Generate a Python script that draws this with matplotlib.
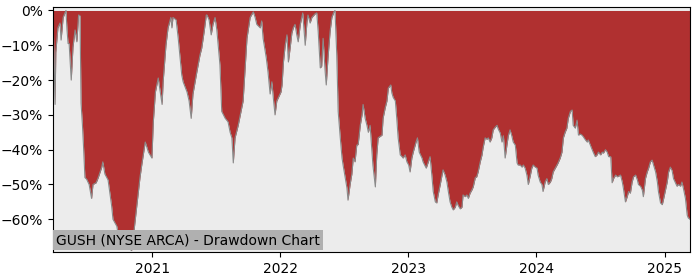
import pandas as pd
import matplotlib
matplotlib.use('Agg')
import matplotlib.pyplot as plt
import matplotlib.dates as mdates
from matplotlib.ticker import PercentFormatter

# drawdown series (percent from running peak)
dates = [
    '2020-03-24', '2020-03-27', '2020-03-30', '2020-04-01', '2020-04-07', '2020-04-13',
    '2020-04-16', '2020-04-22', '2020-04-30', '2020-05-03', '2020-05-06', '2020-05-09',
    '2020-05-15', '2020-05-20', '2020-05-26', '2020-05-31', '2020-06-05', '2020-06-09',
    '2020-06-12', '2020-06-16', '2020-06-19', '2020-06-23', '2020-06-28', '2020-07-05',
    '2020-07-12', '2020-07-16', '2020-07-25', '2020-07-31', '2020-08-10', '2020-08-13',
    '2020-08-19', '2020-08-28', '2020-09-07', '2020-09-11', '2020-09-22', '2020-09-26',
    '2020-10-06', '2020-10-15', '2020-10-24', '2020-11-03', '2020-11-07', '2020-11-18',
    '2020-11-27', '2020-12-02', '2020-12-12', '2020-12-21', '2020-12-31',
    '2021-01-04', '2021-01-10', '2021-01-18', '2021-01-29', '2021-02-01', '2021-02-09',
    '2021-02-15', '2021-02-23', '2021-02-26', '2021-03-01', '2021-03-10', '2021-03-16',
    '2021-03-26', '2021-03-30', '2021-04-10', '2021-04-16', '2021-04-22', '2021-04-27',
    '2021-05-08', '2021-05-17', '2021-05-22', '2021-05-29', '2021-06-04', '2021-06-06',
    '2021-06-12', '2021-06-18', '2021-06-23', '2021-06-29', '2021-07-04', '2021-07-13',
    '2021-07-18', '2021-07-28', '2021-08-05', '2021-08-11', '2021-08-16', '2021-08-20',
    '2021-08-25', '2021-09-03', '2021-09-13', '2021-09-17', '2021-09-28', '2021-10-07',
    '2021-10-16', '2021-10-21', '2021-10-26', '2021-11-05', '2021-11-09', '2021-11-13',
    '2021-11-22', '2021-11-27', '2021-12-03', '2021-12-08', '2021-12-12', '2021-12-17',
    '2021-12-22',
    '2022-01-03', '2022-01-06', '2022-01-10', '2022-01-15', '2022-01-20', '2022-01-24',
    '2022-01-29', '2022-02-03', '2022-02-07', '2022-02-12', '2022-02-17', '2022-02-21',
    '2022-02-27', '2022-03-06', '2022-03-13', '2022-03-18', '2022-03-21', '2022-03-27',
    '2022-04-01', '2022-04-10', '2022-04-15', '2022-04-19', '2022-04-25', '2022-04-29',
    '2022-05-03', '2022-05-09', '2022-05-12', '2022-05-17', '2022-05-23', '2022-05-28',
    '2022-06-03', '2022-06-06', '2022-06-11', '2022-06-15', '2022-06-21', '2022-06-26',
    '2022-06-29', '2022-07-05', '2022-07-10', '2022-07-13', '2022-07-19', '2022-07-24',
    '2022-07-28', '2022-08-02', '2022-08-07', '2022-08-11', '2022-08-17', '2022-08-22',
    '2022-08-25', '2022-08-31', '2022-09-05', '2022-09-09', '2022-09-14', '2022-09-22',
    '2022-09-29', '2022-10-03', '2022-10-07', '2022-10-18', '2022-10-21', '2022-10-27',
    '2022-11-01', '2022-11-05', '2022-11-12', '2022-11-15', '2022-11-19', '2022-11-25',
    '2022-11-29', '2022-12-03', '2022-12-09', '2022-12-14', '2022-12-17', '2022-12-23',
    '2022-12-28',
    '2023-01-02', '2023-01-06', '2023-01-11', '2023-01-15', '2023-01-23', '2023-01-27',
    '2023-02-01', '2023-02-09', '2023-02-12', '2023-02-21', '2023-02-27', '2023-03-04',
    '2023-03-09', '2023-03-13', '2023-03-19', '2023-03-23', '2023-03-27', '2023-04-02',
    '2023-04-07', '2023-04-10', '2023-04-16', '2023-04-21', '2023-04-25', '2023-04-30',
    '2023-05-05', '2023-05-09', '2023-05-15', '2023-05-19', '2023-05-23', '2023-05-29',
    '2023-06-03', '2023-06-06', '2023-06-12', '2023-06-17', '2023-06-21', '2023-06-26',
    '2023-07-01', '2023-07-05', '2023-07-11', '2023-07-15', '2023-07-19', '2023-07-25',
    '2023-07-30', '2023-08-02', '2023-08-08', '2023-08-13', '2023-08-17', '2023-08-22',
    '2023-08-27', '2023-08-31', '2023-09-06', '2023-09-11', '2023-09-14', '2023-09-20',
    '2023-09-25', '2023-09-29', '2023-10-04', '2023-10-09', '2023-10-13', '2023-10-18',
    '2023-10-23', '2023-10-27', '2023-11-02', '2023-11-07', '2023-11-10', '2023-11-16',
    '2023-11-21', '2023-11-25', '2023-11-30', '2023-12-05', '2023-12-09', '2023-12-15',
    '2023-12-19', '2023-12-23', '2023-12-29',
    '2024-01-03', '2024-01-06', '2024-01-12', '2024-01-17', '2024-01-20', '2024-01-26',
    '2024-01-31', '2024-02-04', '2024-02-10', '2024-02-14', '2024-02-18', '2024-02-24',
    '2024-02-29', '2024-03-03', '2024-03-09', '2024-03-14', '2024-03-18', '2024-03-23',
    '2024-03-28', '2024-04-01', '2024-04-07', '2024-04-12', '2024-04-15', '2024-04-21',
    '2024-04-26', '2024-04-30', '2024-05-05', '2024-05-10', '2024-05-14', '2024-05-20',
    '2024-05-25', '2024-05-28', '2024-06-03', '2024-06-08', '2024-06-11', '2024-06-17',
    '2024-06-22', '2024-06-26', '2024-07-02', '2024-07-07', '2024-07-10', '2024-07-16',
    '2024-07-21', '2024-07-25', '2024-07-31', '2024-08-04', '2024-08-08', '2024-08-14',
    '2024-08-19', '2024-08-28', '2024-09-02', '2024-09-05', '2024-09-11', '2024-09-16',
    '2024-09-20', '2024-09-25', '2024-09-30', '2024-10-04', '2024-10-10', '2024-10-15',
    '2024-10-18', '2024-10-24', '2024-10-29', '2024-11-01', '2024-11-07', '2024-11-12',
    '2024-11-16', '2024-11-21', '2024-11-26', '2024-11-30', '2024-12-06', '2024-12-11',
    '2024-12-14', '2024-12-20', '2024-12-25', '2024-12-29',
    '2025-01-03', '2025-01-08', '2025-01-12', '2025-01-17', '2025-01-22', '2025-01-26',
    '2025-02-01', '2025-02-05', '2025-02-09', '2025-02-15', '2025-02-19', '2025-02-23',
    '2025-03-01', '2025-03-06', '2025-03-09', '2025-03-14',
]
drawdown = [
    0, -15, -27, -12, -5, -3.6,
    -8.5, -2, 0, -5.6, -9.5, -9.5,
    -20, -10.5, -5.6, -9, -1.3, -1.5,
    -26.6, -33, -39, -48, -48.5, -50,
    -54, -50, -49.5, -48, -45, -43.5,
    -47, -48.7, -56, -60, -62, -64.5,
    -65, -66, -68, -69, -66, -56,
    -48, -44.4, -37.8, -40.7, -42.4,
    -32, -23.4, -19.4, -27, -20.5, -10,
    -5, -2, -5, -2, -2.7, -8,
    -18.5, -20.5, -23.4, -26, -31, -24,
    -17.7, -12.8, -10.8, -6, -1.3, -1.3,
    -2.7, -7, -4, -2, -5.5, -15.7,
    -29, -31, -32, -35, -36.6, -43.8,
    -36.6, -33, -28, -26, -8, -2,
    -0.4, -1.9, -4, -5, -3, -8,
    -13.6, -17.7, -24, -20.5, -25, -30,
    -26,
    -23.4, -21.4, -14.8, -10, -7, -14.8,
    -10.8, -6.5, -5, -4, -7, -9,
    -4, -0.7, -10, -3.3, -1.3, -3.6,
    -2, -1, -0.7, -6, -16.5, -16,
    -8, -17.7, -21.4, -13.6, -6, -2,
    -0.4, 0, -12.8, -29, -36.6, -42.4,
    -44.4, -48, -51, -54.5, -50, -47,
    -42.4, -43.5, -38.7, -38.5, -33, -30,
    -27, -31, -33, -35, -33, -44.4,
    -50.7, -41.5, -36.6, -35.8, -31, -28,
    -26, -22.3, -21.4, -23.7, -25, -26,
    -31, -36.6, -41.5, -42, -42.4, -41.5,
    -43.5,
    -44.4, -46.4, -42.4, -40.7, -37.8, -36.6,
    -40.7, -42.4, -43.5, -45.3, -43.5, -42,
    -47.3, -52, -55, -55.3, -53, -50,
    -47.3, -45.8, -47.3, -49.3, -52, -55,
    -56.5, -57.3, -56.5, -55, -56, -57,
    -56.5, -53, -53.5, -53, -54, -52.5,
    -51.6, -50.7, -48, -47.8, -46.4, -43.5,
    -41.5, -39.5, -36.6, -37, -36.6, -37.8,
    -36.6, -34.3, -33.5, -33, -34, -35.2,
    -37.8, -36, -42.4, -38.7, -36, -34.3,
    -36, -37.8, -38.7, -43.8, -44.4, -44.4,
    -45, -44.4, -45.3, -47.3, -50, -47.3,
    -45.3, -44.4, -45,
    -45.3, -47.3, -49.3, -50, -52, -49.3,
    -48.3, -50, -49.3, -48.3, -46.4, -45.3,
    -44.4, -43.8, -42.4, -40.7, -36.6, -35,
    -33.8, -31, -29, -28.6, -33, -33.8,
    -31.5, -35.8, -35.5, -35.8, -36.3, -37.2,
    -37.8, -37.2, -38.7, -40, -40.7, -42,
    -41.5, -40.7, -41.5, -40.7, -41, -40,
    -40.7, -42, -42, -49.5, -48.3, -47.3,
    -47.8, -47.3, -49.3, -51, -55, -53.5,
    -52, -52.5, -49.3, -47.8, -47.3, -48.7,
    -50, -50.5, -51.6, -53.5, -48.3, -46.4,
    -45.3, -43.5, -43, -44.4, -46.4, -49.3,
    -52, -55.3, -55.8, -54,
    -51.6, -49.3, -46.4, -45, -46, -48.3,
    -49.6, -50.5, -50, -50.5, -49.3, -51,
    -54, -58.8, -59.6, -60,
]

title = 'GUSH (NYSE ARCA) - Drawdown Chart'

dd = pd.Series(drawdown, index=pd.to_datetime(dates))

fig = plt.figure(figsize=(7, 2.8), dpi=100)
ax = fig.add_axes([0.0757, 0.1, 0.91, 0.875])
ax.set_facecolor('#ececec')

ax.fill_between(dd.index, dd.values, 0, color='#b03030', linewidth=0)
ax.plot(dd.index, dd.values, color='#8a8a8a', linewidth=0.8)

ax.set_xlim(dd.index[0], dd.index[-1])
ax.set_ylim(-69.4, 1.0)
ax.yaxis.set_major_formatter(PercentFormatter(decimals=0))
ax.xaxis.set_major_locator(mdates.YearLocator())
ax.xaxis.set_major_formatter(mdates.DateFormatter('%Y'))
ax.tick_params(labelsize=10)

ax.annotate(title, xy=(0, 0), xycoords='axes fraction',
            xytext=(2.2, 3.5), textcoords='offset points',
            fontsize=10, ha='left', va='bottom',
            bbox=dict(facecolor='#b0b0b0', edgecolor='none', pad=2.3))

fig.savefig('out.png', dpi=100)
